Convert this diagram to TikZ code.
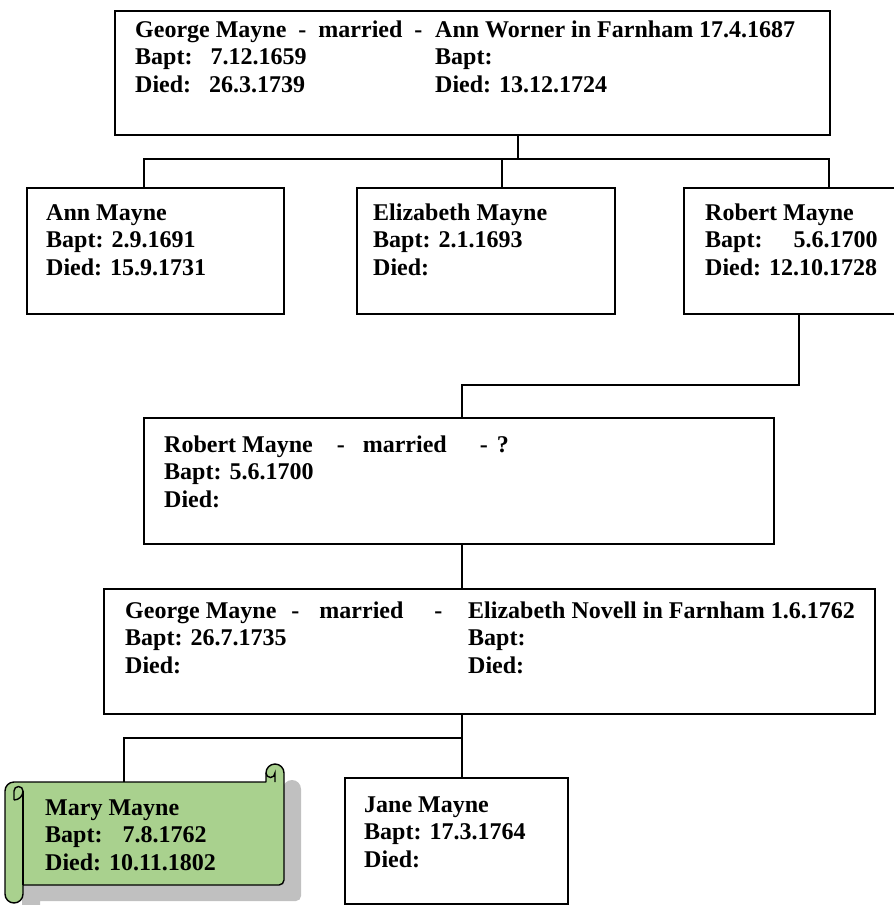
\documentclass[tikz,border=0pt]{standalone}
\usepackage{fontspec}
\setmainfont{Liberation Serif}
\definecolor{scrollgreen}{HTML}{A9D18E}
\definecolor{scrollshade}{HTML}{C0C0C0}

\begin{document}
\begin{tikzpicture}[x=1pt,y=-1pt,
  famblock/.style={draw,line width=1.6pt,anchor=north west,inner sep=0pt},
  famtext/.style={anchor=north west,inner sep=0pt,yshift=19.25pt,align=left,
    font=\bfseries\fontsize{24}{27.5}\selectfont},
  link/.style={line width=1.6pt},
  scrollshape/.style={insert path={(14,782) -- (266,782) -- (266,773)
    arc[start angle=180,end angle=0,radius=9pt] -- (284,880)
    arc[start angle=0,end angle=-90,radius=5pt] -- (23,885) -- (23,894)
    arc[start angle=0,end angle=-180,radius=9pt] -- (5,791)
    arc[start angle=180,end angle=90,radius=9pt] -- cycle}}]

\useasboundingbox (0,0) rectangle (894,905);

% boxes
\node[famblock,minimum width=715pt,minimum height=124pt] (gm) at (114,10) {};
\node[famblock,minimum width=257pt,minimum height=126pt] (ann) at (26,187) {};
\node[famblock,minimum width=258pt,minimum height=126pt] (eliz) at (356,187) {};
\node[famblock,minimum width=217pt,minimum height=126pt] (rob) at (683,187) {};
\node[famblock,minimum width=630pt,minimum height=126pt] (robm) at (143,417) {};
\node[famblock,minimum width=771pt,minimum height=125pt] (geo) at (103,588) {};
\node[famblock,minimum width=223pt,minimum height=126pt] (jane) at (344,777) {};

% scroll for Mary
\fill[scrollshade,shift={(17,16)},scrollshape];
\filldraw[fill=scrollgreen,line width=1.4pt,line join=round,scrollshape];
\draw[line width=1.4pt] (23,791) -- (23,885);
\draw[line width=1.4pt] (14,800) arc[start angle=-90,end angle=0,radius=9pt]
  arc[start angle=0,end angle=180,radius=4.5pt] -- (14,800);
\draw[line width=1.4pt] (275,782) -- (275,773) arc[start angle=0,end angle=-180,radius=4.5pt];
\node[inner sep=0pt,anchor=north west,minimum width=261pt,minimum height=103pt] (mary) at (23,782) {};

% texts
\node[famtext] (gm-t) at (135,37) {\strut\makebox[300pt][l]{George Mayne~~-~~married~~-~~}Ann Worner in Farnham 17.4.1687\\
  \makebox[300pt][l]{Bapt:~~~7.12.1659}Bapt:\\
  \makebox[300pt][l]{Died:~~~26.3.1739}Died: 13.12.1724};
\node[famtext] (ann-t) at (46,220) {\strut Ann Mayne\\Bapt: 2.9.1691\\Died: 15.9.1731};
\node[famtext] (eliz-t) at (373,220) {\strut Elizabeth Mayne\\Bapt: 2.1.1693\\Died:};
\node[famtext] (rob-t) at (705,220) {\strut Robert Mayne\\Bapt:\hspace{31pt}5.6.1700\\Died: 12.10.1728};
\node[famtext] (robm-t) at (164,452) {\strut Robert Mayne\hspace{24pt}-\hspace{18pt}married\hspace{33pt}-\hspace{9pt}?\\
  Bapt: 5.6.1700\\Died:};
\node[famtext] (geo-t) at (125,618) {\strut\makebox[343pt][l]{George Mayne\hspace{15pt}-\hspace{20pt}married\hspace{31pt}-}Elizabeth Novell in Farnham 1.6.1762\\
  \makebox[343pt][l]{Bapt: 26.7.1735}Bapt:\\
  \makebox[343pt][l]{Died:}Died:};
\node[famtext] (mary-t) at (45,815) {\strut Mary Mayne\\Bapt:\hspace{20pt}7.8.1762\\Died: 10.11.1802};
\node[famtext] (jane-t) at (364,812) {\strut Jane Mayne\\Bapt: 17.3.1764\\Died:};

% connectors
\coordinate (bus) at (518,159);
\coordinate (busl) at (144,159);
\coordinate (busm) at (502,159);
\coordinate (busr) at (829,159);
\coordinate (rdown) at (799,385);
\coordinate (rleft) at (462,385);
\coordinate (kbus) at (462,738);
\coordinate (kleft) at (124,738);

\draw[link] (gm.south -| bus) -- (bus);
\draw[link] (ann.north -| busl) -- (busl) -- (busr) -- (rob.north -| busr);
\draw[link] (busm) -- (eliz.north -| busm);
\draw[link] (rob.south -| rdown) -- (rdown) -- (rleft) -- (robm.north -| rleft);
\draw[link] (robm.south -| rleft) -- (geo.north -| rleft);
\draw[link] (geo.south -| kbus) -- (jane.north -| kbus);
\draw[link] (kbus) -- (kleft) -- (mary.north -| kleft);

\end{tikzpicture}
\end{document}
